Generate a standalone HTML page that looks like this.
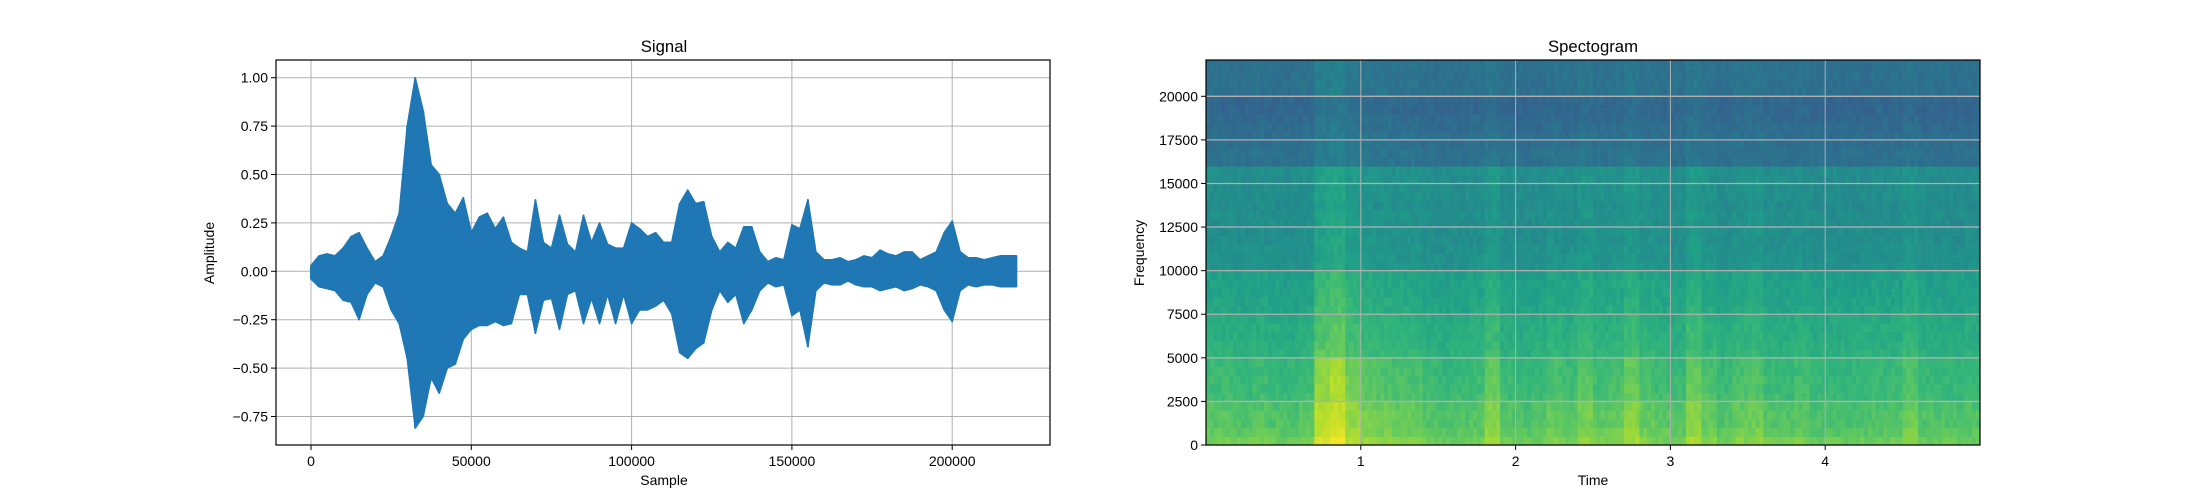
<!DOCTYPE html>
<html><head><meta charset="utf-8">
<style>
html,body{margin:0;padding:0;background:#fff;}
svg{display:block;font-family:"Liberation Sans","DejaVu Sans",sans-serif;}
</style></head>
<body>
<svg id="fig" width="2200" height="500" viewBox="0 0 2200 500" xmlns="http://www.w3.org/2000/svg">
<rect x="0" y="0" width="2200" height="500" fill="#fff"/>
<g id="sig"></g>
<g id="spec"></g>
</svg>
<script>
// ---- Signal data (envelope per 2500 samples) ----
const sampleStep = 2500;
const upperEnv = [0.03,0.08,0.09,0.08,0.12,0.18,0.2,0.12,0.05,0.08,0.18,0.3,0.75,1.0,0.83,0.55,0.5,0.35,0.3,0.38,0.2,0.28,0.3,0.22,0.28,0.15,0.12,0.1,0.37,0.15,0.12,0.29,0.14,0.1,0.29,0.15,0.25,0.14,0.12,0.12,0.25,0.22,0.18,0.2,0.15,0.15,0.35,0.42,0.35,0.36,0.18,0.1,0.15,0.12,0.23,0.23,0.1,0.05,0.07,0.06,0.24,0.22,0.37,0.1,0.06,0.06,0.07,0.05,0.06,0.08,0.07,0.11,0.09,0.08,0.1,0.1,0.06,0.08,0.1,0.2,0.26,0.1,0.07,0.07,0.06,0.07,0.08,0.08,0.08];
const lowerEnv = [-0.04,-0.08,-0.09,-0.1,-0.15,-0.16,-0.25,-0.12,-0.06,-0.08,-0.2,-0.27,-0.45,-0.81,-0.75,-0.55,-0.63,-0.5,-0.48,-0.35,-0.3,-0.28,-0.28,-0.26,-0.28,-0.27,-0.12,-0.12,-0.32,-0.15,-0.14,-0.3,-0.12,-0.1,-0.27,-0.14,-0.27,-0.12,-0.27,-0.12,-0.27,-0.2,-0.2,-0.18,-0.15,-0.22,-0.42,-0.45,-0.4,-0.37,-0.2,-0.1,-0.16,-0.12,-0.27,-0.2,-0.1,-0.06,-0.08,-0.07,-0.23,-0.2,-0.39,-0.1,-0.06,-0.07,-0.07,-0.05,-0.07,-0.08,-0.08,-0.1,-0.09,-0.08,-0.1,-0.09,-0.07,-0.08,-0.1,-0.2,-0.26,-0.1,-0.07,-0.08,-0.07,-0.07,-0.08,-0.08,-0.08];
const sigXTicks = [0,50000,100000,150000,200000];
const sigXTickLabels = ["0","50000","100000","150000","200000"];
const sigYTicks = [-0.75,-0.5,-0.25,0,0.25,0.5,0.75,1.0];
const sigYTickLabels = ["\u22120.75","\u22120.50","\u22120.25","0.00","0.25","0.50","0.75","1.00"];

// ---- Spectrogram data ----
const timeBins = 50;            // 0.1 s columns
const timeBoost = [0.05,0.05,0.03,0.05,0.03,0.02,0.05,0.25,0.3,0.18,0.12,0.1,0.08,0.08,0.04,0.02,0.03,0.05,0.15,0.04,0.02,0.03,0.08,0.05,0.12,0.06,0.08,0.15,0.08,0.05,0.04,0.16,0.08,0.03,0.08,0.1,0.04,0.03,0.06,0.02,0.02,0.02,0.02,0.03,0.03,0.1,0.03,0.02,0.02,0.03];
const freqLevel = [0.75,0.72,0.7,0.7,0.69,0.66,0.65,0.65,0.64,0.64,0.62,0.61,0.6,0.6,0.59,0.57,0.56,0.55,0.55,0.54,0.5,0.49,0.49,0.48,0.48,0.48,0.48,0.47,0.48,0.48,0.48,0.48,0.36,0.36,0.35,0.35,0.34,0.33,0.32,0.32,0.36,0.36,0.36,0.36,0.36];
const specXTicks = [1,2,3,4];
const specYTicks = [0,2500,5000,7500,10000,12500,15000,17500,20000];

const NS = "http://www.w3.org/2000/svg";
function mk(tag, attrs, parent){const e=document.createElementNS(NS,tag);for(const k in attrs)e.setAttribute(k,attrs[k]);parent.appendChild(e);return e;}

// ===== Signal axes =====
const sig = document.getElementById('sig');
const SL=276,SR=1050,ST=60,SB=445;
const sx = v => 311 + v*(160.3/50000);
const sy = v => 271.3 - v*(48.4/0.25);
sigXTicks.forEach((t,i)=>{
  const l=mk('line',{x1:sx(t),x2:sx(t),y1:ST,y2:SB,stroke:'#b0b0b0','stroke-width':1},sig);
  
  
});
sigYTicks.forEach((t,i)=>{
  const l=mk('line',{x1:SL,x2:SR,y1:sy(t),y2:sy(t),stroke:'#b0b0b0','stroke-width':1},sig);
  
  
});
let pts=[];
upperEnv.forEach((v,i)=>pts.push(sx(i*sampleStep).toFixed(1)+','+sy(v).toFixed(1)));
for(let i=lowerEnv.length-1;i>=0;i--)pts.push(sx(i*sampleStep).toFixed(1)+','+sy(lowerEnv[i]).toFixed(1));
const wave=mk('polygon',{points:pts.join(' '),fill:'#1f77b4',stroke:'#1f77b4','stroke-width':1.5,'stroke-linejoin':'round'},sig);


upperEnv.forEach((v,i)=>{
  const l=mk('line',{x1:sx(i*sampleStep),x2:sx(i*sampleStep),y1:sy(v),y2:sy(lowerEnv[i]),stroke:'#1f77b4','stroke-width':2},sig);
  
  
});
const sframe=mk('rect',{x:SL,y:ST,width:SR-SL,height:SB-ST,fill:'none',stroke:'#000','stroke-width':1.2},sig);


sigXTicks.forEach((t,i)=>{
  mk('line',{x1:sx(t),x2:sx(t),y1:SB,y2:SB+5,stroke:'#000','stroke-width':1},sig);
  const tx=mk('text',{x:sx(t),y:SB+21,'font-size':14,'text-anchor':'middle',fill:'#000'},sig);
  tx.textContent=sigXTickLabels[i];
  
  
});
sigYTicks.forEach((t,i)=>{
  mk('line',{x1:SL-5,x2:SL,y1:sy(t),y2:sy(t),stroke:'#000','stroke-width':1},sig);
  const tx=mk('text',{x:SL-8,y:sy(t)+5,'font-size':14,'text-anchor':'end',fill:'#000'},sig);
  tx.textContent=sigYTickLabels[i];
  
  
});
let t1=mk('text',{x:664,y:52,'font-size':16.7,'text-anchor':'middle'},sig);t1.textContent='Signal';


let t2=mk('text',{x:664,y:485,'font-size':14,'text-anchor':'middle'},sig);t2.textContent='Sample';


let t3=mk('text',{x:0,y:0,'font-size':14,'text-anchor':'middle',transform:'translate(214,253) rotate(-90)'},sig);t3.textContent='Amplitude';



// ===== Spectrogram =====
const spec=document.getElementById('spec');
const PL=1206,PR=1980,PT=60,PB=445;
const px = t => PL + t*(PR-PL)/5.0;
const py = f => PB - f*(PB-96.3)/20000;
const vir=[[68,1,84],[72,40,120],[62,74,137],[49,104,142],[38,130,142],[31,158,137],[53,183,121],[109,205,89],[180,222,44],[253,231,37]];
function cmap(v){v=Math.max(0,Math.min(1,v));const p=v*(vir.length-1),i=Math.min(vir.length-2,Math.floor(p)),f=p-i;const a=vir[i],b=vir[i+1];return 'rgb('+a.map((c,k)=>Math.round(c+(b[k]-c)*f)).join(',')+')';}
const clip=mk('clipPath',{id:'specclip'},spec);mk('rect',{x:PL,y:PT,width:PR-PL,height:PB-PT},clip);
const cells=mk('g',{'clip-path':'url(#specclip)'},spec);


const sub=4;
for(let i=0;i<timeBins;i++){
  for(let s=0;s<sub;s++){
    for(let j=0;j<freqLevel.length;j++){
      const w = j<10 ? 0.75 : (j<20 ? 0.5 : (j<32 ? 0.35 : 0.25));
      const k=i*sub+s;
      const tex = ((((k*37+j*53)^(k*11))%9)-4)*0.006;
      const v = freqLevel[j] + timeBoost[i]*w + tex;
      const x0=px(i*0.1+s*0.1/sub),x1=px(i*0.1+(s+1)*0.1/sub),y0=py((j+1)*500),y1=py(j*500);
      const r=mk('rect',{x:x0.toFixed(2),y:y0.toFixed(2),width:(x1-x0+0.6).toFixed(2),height:(y1-y0+0.6).toFixed(2),fill:cmap(v)},cells);
      
      
    }
  }
}
specXTicks.forEach(t=>{
  const l=mk('line',{x1:px(t),x2:px(t),y1:PT,y2:PB,stroke:'#b0b0b0','stroke-width':1},spec);
  
  
  mk('line',{x1:px(t),x2:px(t),y1:PB,y2:PB+5,stroke:'#000','stroke-width':1},spec);
  const tx=mk('text',{x:px(t),y:PB+21,'font-size':14,'text-anchor':'middle'},spec);tx.textContent=String(t);
  
  
});
specYTicks.forEach(f=>{
  const l=mk('line',{x1:PL,x2:PR,y1:py(f),y2:py(f),stroke:'#b0b0b0','stroke-width':1.3},spec);
  
  
  mk('line',{x1:PL-5,x2:PL,y1:py(f),y2:py(f),stroke:'#000','stroke-width':1},spec);
  const tx=mk('text',{x:PL-8,y:py(f)+5,'font-size':14,'text-anchor':'end'},spec);tx.textContent=String(f);
  
  
});
const pframe=mk('rect',{x:PL,y:PT,width:PR-PL,height:PB-PT,fill:'none',stroke:'#000','stroke-width':1.2},spec);


let s1=mk('text',{x:1593,y:52,'font-size':16.7,'text-anchor':'middle'},spec);s1.textContent='Spectogram';


let s2=mk('text',{x:1593,y:485,'font-size':14,'text-anchor':'middle'},spec);s2.textContent='Time';


let s3=mk('text',{x:0,y:0,'font-size':14,'text-anchor':'middle',transform:'translate(1144,253) rotate(-90)'},spec);s3.textContent='Frequency';


</script>
</body></html>
